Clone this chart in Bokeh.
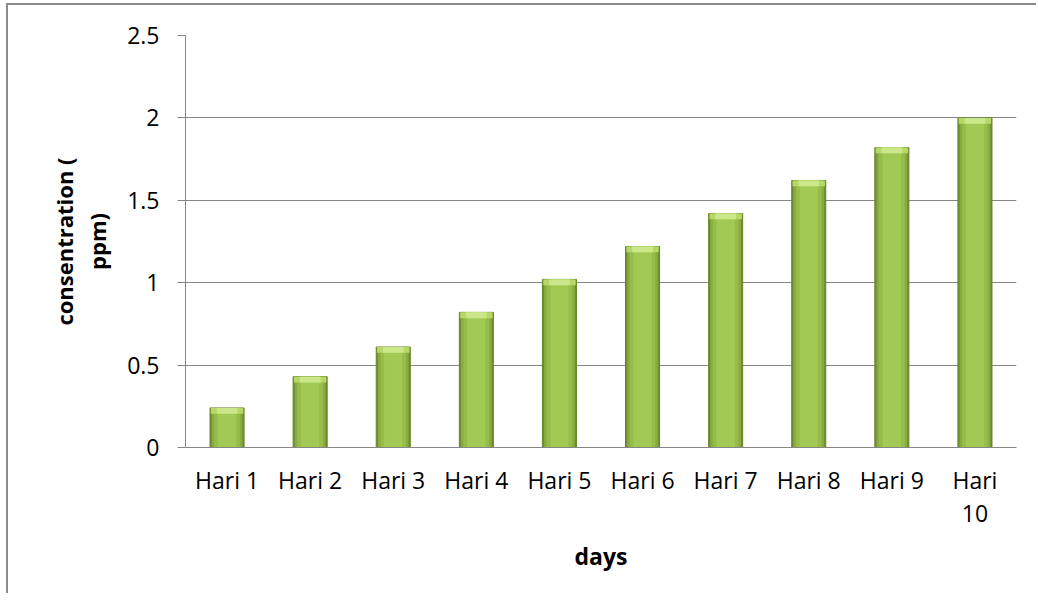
from bokeh.plotting import figure
from bokeh.models import Range1d, FixedTicker, ColumnDataSource, LinearAxis
from bokeh.embed import file_html
from bokeh.resources import INLINE

days = ["Hari 1", "Hari 2", "Hari 3", "Hari 4", "Hari 5",
        "Hari 6", "Hari 7", "Hari 8", "Hari 9", "Hari 10"]
# the last label wraps onto two lines in the reference
label_line1 = ["Hari 1", "Hari 2", "Hari 3", "Hari 4", "Hari 5",
               "Hari 6", "Hari 7", "Hari 8", "Hari 9", "Hari"]
label_line2 = ["", "", "", "", "", "", "", "", "", "10"]
concentration = [0.24, 0.43, 0.61, 0.82, 1.02, 1.22, 1.42, 1.62, 1.82, 2.0]
y_ticks = [0, 0.5, 1, 1.5, 2, 2.5]
y_tick_labels = ["0", "0.5", "1", "1.5", "2", "2.5"]

FONT = "Open Sans"

pos = list(range(1, len(days) + 1))
cap = 0.035
src = ColumnDataSource(dict(
    x=pos,
    day=days,
    top=concentration,
    cap_bottom=[v - cap for v in concentration],
))

p = figure(
    x_range=Range1d(0.5, len(days) + 0.5),
    y_range=Range1d(0, 2.5),
    width=1030, height=590,
    output_backend="svg", toolbar_location=None,
    min_border_left=177, min_border_right=22,
    min_border_top=30, min_border_bottom=148,
)
p.styles = {"border-left": "2px solid #8a8a8a", "border-top": "2px solid #8a8a8a",
            "margin-left": "6px", "margin-top": "3px"}
p.outline_line_color = None
p.background_fill_color = "white"
p.border_fill_color = "white"

# bars: layered to mimic gradient shading
p.vbar(x="x", top="top", bottom=0, width=0.41, source=src,
       fill_color="#6E8B30", line_color="#6A8630", line_width=1)
p.vbar(x="x", top="top", bottom=0, width=0.37, source=src,
       fill_color="#88AC40", line_color=None)
p.vbar(x="x", top="top", bottom=0, width=0.31, source=src,
       fill_color="#96BC4A", line_color=None)
p.vbar(x="x", top="top", bottom=0, width=0.22, source=src,
       fill_color="#A1C954", line_color=None)
p.vbar(x="x", top="top", bottom="cap_bottom", width=0.39, source=src,
       fill_color="#B6D866", line_color=None)
p.vbar(x="x", top="top", bottom="cap_bottom", width=0.25, source=src,
       fill_color="#CBE78A", line_color=None)

# y axis
p.yaxis.ticker = FixedTicker(ticks=y_ticks)
p.yaxis.major_label_overrides = {t: s for t, s in zip(y_ticks, y_tick_labels)}
p.yaxis.axis_label = "consentration (\nppm)"
p.yaxis.axis_label_text_font = FONT
p.yaxis.axis_label_text_font_style = "bold"
p.yaxis.axis_label_text_font_size = "22px"
p.yaxis.axis_label_text_color = "black"
p.yaxis.axis_label_text_line_height = 1.1
p.yaxis.axis_label_standoff = 12
p.yaxis.major_label_text_font = FONT
p.yaxis.major_label_text_font_size = "23px"
p.yaxis.major_label_text_color = "black"
p.yaxis.major_label_standoff = 18
p.yaxis.axis_line_color = "#868686"
p.yaxis.major_tick_line_color = "#868686"
p.yaxis.major_tick_out = 8
p.yaxis.major_tick_in = 0
p.yaxis.minor_tick_line_color = None

# x axis: first line of labels
xa = p.below[0]
xa.ticker = FixedTicker(ticks=pos)
xa.major_label_overrides = dict(zip(pos, label_line1))
xa.major_label_text_font = FONT
xa.major_label_text_font_size = "23px"
xa.major_label_text_color = "black"
xa.major_label_standoff = 10
xa.axis_line_color = "#868686"
xa.major_tick_line_color = None
xa.minor_tick_line_color = None

# second line of labels + axis title
xa2 = LinearAxis(ticker=FixedTicker(ticks=pos),
                 major_label_overrides=dict(zip(pos, label_line2)))
xa2.major_label_text_font = FONT
xa2.major_label_text_font_size = "23px"
xa2.major_label_text_color = "black"
xa2.major_label_standoff = 0
xa2.axis_line_color = None
xa2.major_tick_line_color = None
xa2.minor_tick_line_color = None
xa2.axis_label = "days"
xa2.axis_label_text_font = FONT
xa2.axis_label_text_font_style = "bold"
xa2.axis_label_text_font_size = "23px"
xa2.axis_label_text_color = "black"
xa2.axis_label_standoff = 15
p.add_layout(xa2, "below")

p.xgrid.grid_line_color = None
p.ygrid.grid_line_color = "#868686"
p.ygrid.grid_line_width = 1

open("out.html", "w").write(file_html(p, INLINE))
